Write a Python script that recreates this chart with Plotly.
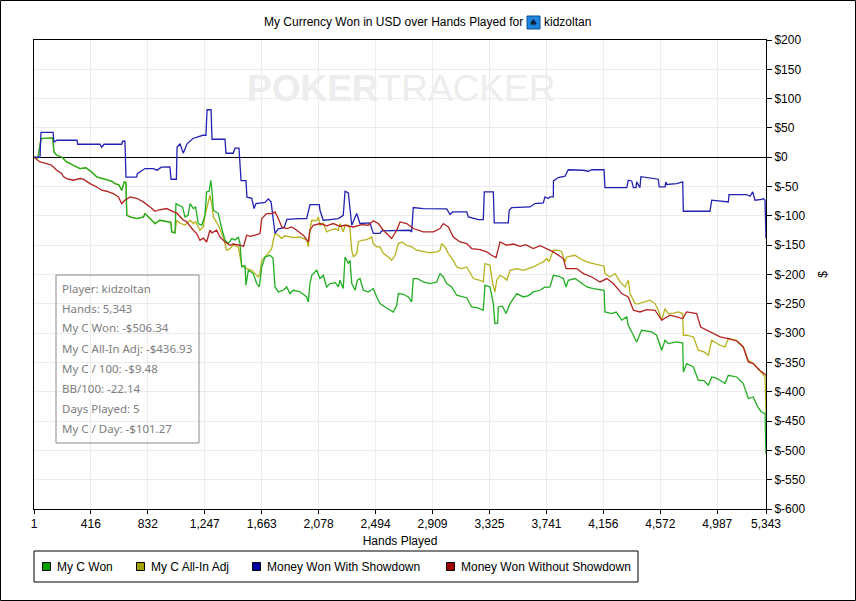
import plotly.graph_objects as go

# ---------------- data ----------------
x_tick_hands = [1, 416, 832, 1247, 1663, 2078, 2494, 2909, 3325, 3741, 4156, 4572, 4987, 5343]
y_tick_values = list(range(-600, 201, 50))

won_hands = [1, 30, 52, 100, 137, 147, 167, 203, 240, 288, 337, 380, 422, 459, 495, 532, 570, 592, 620, 641, 660, 672, 678, 702, 750, 800, 811, 848, 884, 920, 970, 1000, 1006, 1030, 1037, 1066, 1085, 1103, 1125, 1140, 1164, 1180, 1200, 1225, 1249, 1261, 1280, 1291, 1302, 1310, 1346, 1371, 1395, 1419, 1444, 1470, 1492, 1504, 1517, 1541, 1548, 1565, 1601, 1626, 1645, 1663, 1687, 1723, 1745, 1760, 1784, 1820, 1845, 1869, 1893, 1940, 1991, 2003, 2015, 2028, 2064, 2088, 2112, 2137, 2161, 2200, 2222, 2234, 2258, 2271, 2295, 2307, 2320, 2344, 2361, 2380, 2404, 2441, 2477, 2502, 2526, 2563, 2599, 2623, 2648, 2660, 2696, 2733, 2757, 2769, 2800, 2842, 2891, 2940, 2964, 2988, 3013, 3049, 3086, 3122, 3159, 3195, 3240, 3280, 3292, 3329, 3353, 3365, 3385, 3389, 3420, 3446, 3475, 3524, 3572, 3610, 3645, 3694, 3730, 3742, 3767, 3791, 3830, 3864, 3884, 3900, 3949, 3986, 4035, 4083, 4130, 4161, 4168, 4217, 4250, 4290, 4327, 4338, 4363, 4399, 4435, 4480, 4509, 4545, 4582, 4606, 4630, 4691, 4735, 4740, 4764, 4813, 4849, 4890, 4922, 4947, 4971, 5008, 5044, 5068, 5129, 5177, 5214, 5250, 5283, 5309, 5336, 5343]
won_usd = [0, -1, 31.9, 33, 32.9, 9, 3.4, 0.5, -8, -13.6, -19.3, -18, -25.1, -33.6, -36.3, -39.2, -41, -44.9, -47, -56.3, -42.1, -43, -98.9, -101.8, -104.6, -101.8, -96, -104.6, -113.1, -107.5, -109.2, -111, -127.4, -129.1, -79, -81.9, -85, -101.8, -99, -79, -87.5, -85, -113.1, -116, -98.9, -59.2, -58, -39.2, -61.9, -90.4, -96, -121.6, -141.6, -147.2, -138.7, -141, -136, -147.2, -187.1, -185, -218.3, -192.8, -198.4, -215.4, -221.2, -187.1, -170.1, -167.2, -172, -221.2, -229.8, -226.9, -221.2, -232.5, -226.9, -229, -238.3, -246.8, -215.4, -201.3, -192.8, -206.9, -201.3, -221.2, -215.4, -214, -221.2, -209.8, -224, -170.1, -181.3, -175.7, -215.4, -226.9, -209.8, -206.9, -226.9, -229.8, -224, -238.3, -249.6, -255.4, -261, -263.9, -252.5, -232.5, -233.7, -238.3, -246.8, -206.9, -207, -212.7, -215.4, -213, -198.4, -204.2, -215.4, -221.2, -235.4, -238.3, -240, -255.4, -257, -261, -218.3, -221.2, -249.6, -283.7, -283, -255.4, -254, -266.6, -249.6, -232.5, -238.3, -236, -229.8, -226.9, -221.2, -222, -221.2, -201.3, -203, -206.9, -221.2, -209.8, -206.9, -212.7, -221.2, -224, -226, -226.9, -263.9, -266.6, -264, -278, -272.4, -286.6, -298, -315.1, -295.1, -297, -298, -303.6, -329.2, -312.2, -317.8, -315.1, -317, -366.2, -351.9, -357.7, -380.4, -381, -388.9, -374.8, -376, -380.4, -386, -371.9, -374.8, -386, -411.6, -408.9, -425.9, -434.5, -437.2, -506.34]

allin_hands = [1, 30, 52, 100, 137, 147, 167, 203, 240, 288, 337, 380, 422, 459, 495, 532, 570, 592, 620, 641, 660, 672, 678, 702, 750, 800, 811, 848, 884, 920, 970, 1000, 1006, 1030, 1042, 1066, 1103, 1140, 1164, 1180, 1212, 1237, 1249, 1285, 1298, 1310, 1346, 1382, 1407, 1430, 1455, 1492, 1517, 1553, 1590, 1614, 1638, 1650, 1663, 1699, 1736, 1747, 1760, 1784, 1809, 1830, 1869, 1893, 1942, 1991, 2003, 2015, 2028, 2064, 2076, 2088, 2112, 2137, 2161, 2200, 2222, 2234, 2258, 2271, 2295, 2307, 2320, 2331, 2356, 2368, 2393, 2429, 2465, 2477, 2502, 2526, 2550, 2587, 2611, 2636, 2660, 2684, 2721, 2757, 2794, 2842, 2891, 2940, 2964, 2976, 3000, 3025, 3061, 3086, 3122, 3159, 3207, 3256, 3280, 3292, 3329, 3348, 3365, 3378, 3402, 3430, 3451, 3475, 3524, 3572, 3610, 3645, 3694, 3718, 3742, 3760, 3791, 3830, 3852, 3876, 3889, 3949, 3986, 4035, 4083, 4132, 4161, 4168, 4205, 4241, 4278, 4314, 4338, 4351, 4387, 4410, 4447, 4496, 4533, 4557, 4582, 4606, 4630, 4670, 4703, 4735, 4740, 4764, 4813, 4849, 4890, 4922, 4947, 4971, 5008, 5044, 5068, 5129, 5177, 5214, 5250, 5296, 5336, 5343]
allin_usd = [0, -1, 31.9, 33, 32.9, 9, 3.4, 0.5, -8, -13.6, -19.3, -18, -25.1, -33.6, -36.3, -39.2, -41, -44.9, -47, -56.3, -42.1, -43, -98.9, -101.8, -104.6, -101.8, -96, -104.6, -113.1, -107.5, -109.2, -111, -127.4, -129.1, -107.5, -112.1, -116, -107.5, -113.1, -110, -124.5, -118.9, -98.9, -64.8, -79, -101.8, -116, -136, -158.6, -156, -150.1, -153, -184.2, -189.9, -192.8, -198.4, -204.2, -198, -175.7, -167.2, -155.7, -141.6, -130.2, -133, -138.7, -134, -136, -137, -136, -141.6, -153, -124.5, -107.5, -108, -101.8, -116, -112, -127.4, -124.5, -122, -124.5, -113.1, -127.4, -116, -116, -122, -158.6, -170.1, -164.3, -144.5, -141.6, -140.5, -136, -147.2, -153, -153, -164.3, -170.1, -175.7, -167.2, -147.2, -144.5, -150.1, -153, -158.6, -161.5, -163.2, -161.5, -158.6, -147.2, -153, -164.3, -175.7, -187.1, -189.9, -187.1, -206.9, -209.8, -212.7, -181.3, -184.2, -215.4, -229.8, -209.8, -201.3, -205, -209.8, -192.8, -189.9, -192.8, -190, -187.1, -181.3, -178.6, -172.8, -178, -158.6, -159, -161.5, -178.6, -170.1, -167.2, -172.8, -178.6, -181.3, -184.2, -185.9, -198.4, -204.2, -198.4, -212.7, -221.2, -209.8, -232.5, -249.6, -250, -246.8, -243.9, -249.6, -261, -278, -258.1, -266.6, -266, -263.9, -266.6, -303.6, -303.6, -306.5, -329.2, -332, -337.7, -312.2, -315.1, -320.7, -323.6, -309.3, -312.2, -323.6, -346.3, -351.9, -363.3, -374.8, -436.93]

sd_hands = [1, 45, 52, 140, 147, 167, 315, 320, 483, 495, 512, 641, 648, 665, 672, 750, 755, 811, 870, 900, 930, 993, 1001, 1040, 1045, 1067, 1090, 1118, 1161, 1234, 1256, 1264, 1293, 1300, 1395, 1402, 1455, 1468, 1497, 1512, 1548, 1555, 1590, 1607, 1621, 1687, 1711, 1731, 1760, 1784, 1826, 1847, 1942, 1991, 2015, 2083, 2088, 2112, 2161, 2222, 2258, 2271, 2295, 2320, 2356, 2380, 2453, 2477, 2526, 2538, 2745, 2757, 2769, 2842, 3013, 3025, 3037, 3056, 3159, 3171, 3244, 3280, 3287, 3353, 3360, 3462, 3469, 3487, 3621, 3657, 3718, 3730, 3754, 3767, 3791, 3792, 3827, 3876, 3900, 4010, 4046, 4071, 4161, 4168, 4327, 4338, 4363, 4375, 4394, 4399, 4423, 4430, 4520, 4557, 4564, 4606, 4613, 4618, 4691, 4735, 4740, 4934, 4947, 5068, 5073, 5202, 5226, 5246, 5263, 5313, 5323, 5336, 5343]
sd_usd = [0, 0, 42.6, 42.6, 25.6, 29, 29, 22.2, 22.2, 17.1, 22.2, 22.2, 27.3, 27.3, -34, -34, -28, -19.3, -19.3, -22, -17, -16.5, -37.5, -37.5, 17.1, 23, 7, 23, 32, 37.5, 37.5, 81, 81, 30.7, 30.7, 6.8, 6.8, 15.4, 15.4, -40, -40, -68, -70, -87.5, -79, -77, -71, -76, -130, -122, -120, -106, -104.6, -104.6, -80.7, -80.7, -90.4, -107.5, -106.3, -104.6, -99, -58, -61, -116, -96, -113, -112, -130, -130, -125.7, -124.5, -127.4, -85.8, -87.5, -88, -93.3, -97.7, -93.3, -93.3, -101.8, -106.3, -106.3, -59.2, -59.2, -112.1, -112.1, -90.4, -85.8, -84.8, -79, -78, -67.7, -70.4, -67.7, -67.7, -40.4, -34.7, -32.4, -21.3, -22.2, -23.9, -21.3, -21.3, -51.7, -51.7, -39.2, -40.4, -51.7, -51.7, -42.1, -52, -33.1, -35.8, -37.5, -50.7, -50.7, -42.1, -46.5, -44.9, -42.1, -92.1, -92.1, -73.3, -76.2, -63.6, -63.6, -66.5, -59.2, -73.3, -72, -70.4, -73.3, -138.7]

nsd_hands = [1, 45, 94, 130, 167, 203, 215, 240, 288, 337, 361, 410, 459, 495, 530, 580, 617, 641, 665, 702, 750, 799, 848, 884, 908, 970, 1018, 1042, 1091, 1110, 1164, 1188, 1212, 1237, 1261, 1285, 1300, 1334, 1358, 1395, 1431, 1455, 1504, 1530, 1553, 1580, 1614, 1650, 1663, 1699, 1736, 1760, 1784, 1809, 1845, 1882, 1918, 1966, 2003, 2015, 2039, 2088, 2137, 2185, 2234, 2271, 2331, 2393, 2441, 2477, 2514, 2550, 2611, 2648, 2672, 2721, 2769, 2842, 2915, 2964, 2988, 3025, 3061, 3110, 3159, 3195, 3256, 3305, 3341, 3373, 3402, 3451, 3500, 3548, 3590, 3645, 3694, 3742, 3791, 3864, 3884, 3962, 4010, 4071, 4132, 4181, 4229, 4290, 4338, 4375, 4423, 4472, 4533, 4582, 4642, 4691, 4735, 4764, 4837, 4866, 4934, 5008, 5068, 5129, 5177, 5214, 5250, 5296, 5336, 5343]
nsd_usd = [0, -8, -10.7, -13.6, -22.2, -27.8, -33, -36.3, -39.2, -36.3, -37.5, -44.9, -50.7, -56.3, -58, -61.9, -67.7, -79, -73.3, -67.7, -70, -76.2, -84.8, -92.1, -90, -87.5, -93.3, -95, -107.5, -109, -124.5, -130.2, -141.6, -138, -144.5, -124.5, -129, -124.5, -136, -144.5, -150.1, -148, -150.1, -152, -133, -135, -133, -130.2, -104.6, -96, -96, -93.3, -104.6, -118.9, -121.6, -118.9, -124.5, -133, -144.5, -124.5, -116, -113.1, -117, -113.1, -117.7, -116, -118.9, -115, -116, -108.5, -113.1, -124.5, -138.7, -124.5, -110.4, -113.1, -121.6, -127.4, -127.4, -121.6, -113.1, -118.9, -136, -144.5, -147.2, -155.7, -157.4, -161.5, -167.2, -171, -144.5, -150.1, -148, -152, -149, -155.7, -151, -155.7, -161.5, -172.8, -189.9, -189.9, -198.4, -204.2, -212.7, -206.9, -215.4, -232.5, -238.3, -261, -263.9, -259.8, -261, -278, -269.5, -272.4, -275.1, -263.9, -266.6, -289.5, -298, -306.5, -309.3, -313.4, -323.6, -349.2, -351.9, -363.3, -370.2, -372]

series_names = ["My C Won", "My C All-In Adj", "Money Won With Showdown", "Money Won Without Showdown"]
line_colors = ["#22ad22", "#b6b21c", "#2222b2", "#b42222"]
legend_colors = ["#00a000", "#a0a000", "#0000a0", "#a00000"]

info_lines = ["Player: kidzoltan", "Hands: 5,343", "My C Won: -$506.34", "My C All-In Adj: -$436.93",
              "My C / 100: -$9.48", "BB/100: -22.14", "Days Played: 5", "My C / Day: -$101.27"]

# ---------------- layout helpers ----------------
W, H = 856, 601
ML, MR, MT, MB = 34, 90, 40, 92
PW, PH = W - ML - MR, H - MT - MB


def px(x):
    return (x - ML) / PW


def py(y):
    return (H - MB - y) / PH


FONT = "Liberation Sans, Arial, sans-serif"

fig = go.Figure()
draw_order = [1, 0, 2, 3]
series = [(won_hands, won_usd), (allin_hands, allin_usd), (sd_hands, sd_usd), (nsd_hands, nsd_usd)]
for i in draw_order:
    xs, ys = series[i]
    fig.add_trace(go.Scatter(x=xs, y=ys, mode="lines", name=series_names[i],
                             line=dict(color=line_colors[i], width=1.3),
                             showlegend=False, hoverinfo="skip"))

shapes = []
annotations = []

# outer border
shapes.append(dict(type="rect", xref="paper", yref="paper", x0=px(0.5), x1=px(W - 0.5),
                   y0=py(H - 0.5), y1=py(0.5), line=dict(color="black", width=1)))

# title
annotations.append(dict(xref="paper", yref="paper", x=px(525), y=py(22), xanchor="right", yanchor="middle",
                        text="My Currency Won in USD over Hands Played for", showarrow=False,
                        font=dict(family=FONT, size=12, color="black")))
shapes.append(dict(type="rect", xref="paper", yref="paper", x0=px(527), x1=px(540), y0=py(29), y1=py(16),
                   fillcolor="#1e86e0", line=dict(color="#0d4f8f", width=1)))
annotations.append(dict(xref="paper", yref="paper", x=px(533.5), y=py(22.5), xanchor="center", yanchor="middle",
                        text="♠", showarrow=False, font=dict(family="DejaVu Sans", size=10, color="#0b2440")))
annotations.append(dict(xref="paper", yref="paper", x=px(542), y=py(22), xanchor="left", yanchor="middle",
                        text="kidzoltan", showarrow=False, font=dict(family=FONT, size=12, color="black")))

# watermark
annotations.append(dict(xref="paper", yref="paper", x=px(401), y=py(89), xanchor="center", yanchor="middle",
                        text="<b>POKER</b>TRACKER", showarrow=False,
                        font=dict(family="Liberation Sans", size=37, color="#ededed")))

# info box
shapes.append(dict(type="rect", xref="paper", yref="paper", x0=px(56), x1=px(199), y0=py(443), y1=py(275),
                   line=dict(color="#8a8a8a", width=1)))
for k, t in enumerate(info_lines):
    annotations.append(dict(xref="paper", yref="paper", x=px(60), y=py(288 + 20 * k), xanchor="left",
                            yanchor="middle", text=t, showarrow=False,
                            font=dict(family="Noto Sans, Open Sans, sans-serif", size=11.5, color="#7d7d7d")))

# legend (manual)
shapes.append(dict(type="rect", xref="paper", yref="paper", x0=px(34), x1=px(638), y0=py(582), y1=py(551),
                   line=dict(color="black", width=1)))
legend_x = [42.5, 136.5, 252.5, 446.5]
for k in range(4):
    x0 = legend_x[k]
    shapes.append(dict(type="rect", xref="paper", yref="paper", x0=px(x0), x1=px(x0 + 8), y0=py(570.5),
                       y1=py(562.5), fillcolor=legend_colors[k], line=dict(color="black", width=1)))
    annotations.append(dict(xref="paper", yref="paper", x=px(x0 + 12), y=py(566.5), xanchor="left",
                            yanchor="middle", text=series_names[k], showarrow=False,
                            font=dict(family=FONT, size=12, color="black")))

fig.update_layout(
    width=W, height=H,
    margin=dict(l=ML, r=MR, t=MT, b=MB),
    paper_bgcolor="white", plot_bgcolor="white",
    font=dict(family=FONT, size=12, color="black"),
    shapes=shapes, annotations=annotations,
    showlegend=False,
    xaxis=dict(range=[1, 5343], tickvals=x_tick_hands, ticktext=[f"{v:,}" for v in x_tick_hands],
               showgrid=True, gridcolor="#ececec", gridwidth=1, zeroline=False,
               showline=True, linecolor="black", linewidth=1, mirror=True,
               ticks="outside", ticklen=4, tickcolor="black",
               tickfont=dict(family=FONT, size=12),
               title=dict(text="Hands Played", font=dict(family=FONT, size=12), standoff=6)),
    yaxis=dict(range=[-600, 200], side="right", tickvals=y_tick_values,
               ticktext=[f"${v}" for v in y_tick_values],
               showgrid=True, gridcolor="#ececec", gridwidth=1,
               zeroline=True, zerolinecolor="black", zerolinewidth=1,
               showline=True, linecolor="black", linewidth=1, mirror=True,
               ticks="outside", ticklen=5, tickcolor="black",
               tickfont=dict(family=FONT, size=12),
               title=dict(text="$", font=dict(family=FONT, size=12), standoff=14)),
)

fig.write_html("out.html", config={"displayModeBar": False},
               post_script="document.body.style.margin='0';document.body.style.overflow='hidden';")
